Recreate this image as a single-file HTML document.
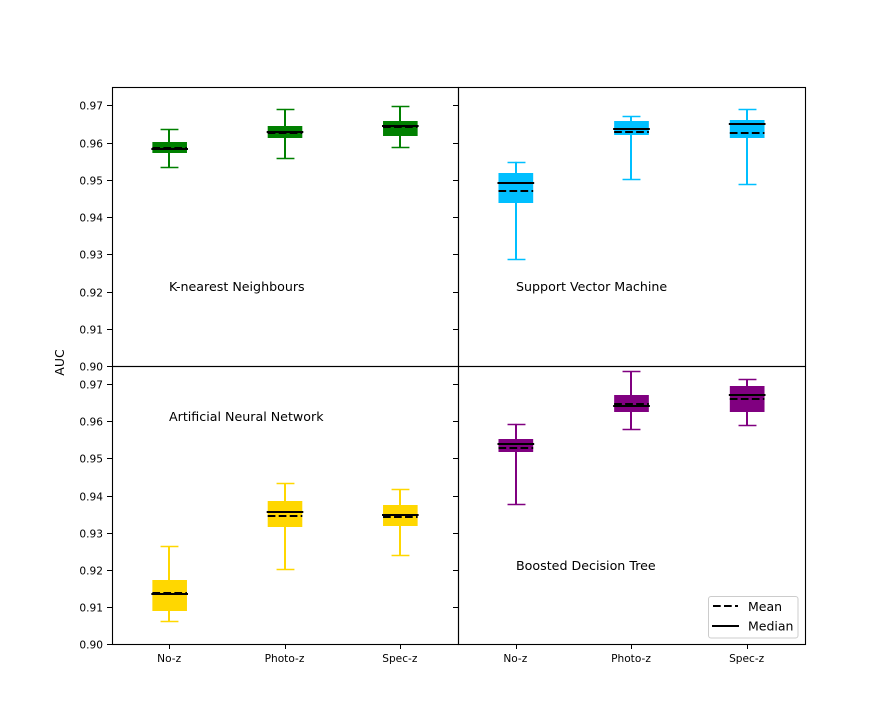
<!DOCTYPE html>
<html>
<head>
<meta charset="utf-8">
<title>AUC box plots</title>
<style>
html,body{margin:0;padding:0;background:#fff;width:894px;height:724px;overflow:hidden}
svg{display:block}
text{font-family:"DejaVu Sans","Liberation Sans",sans-serif;fill:#000}
</style>
</head>
<body>
<svg id="chart" xmlns="http://www.w3.org/2000/svg" width="894" height="724" viewBox="0 0 894 724">
  <text transform="translate(64 362.5) rotate(-90)" text-anchor="middle" font-size="12.5">AUC</text>
  <g id="panels"></g>
  <g>
    <rect x="708.5" y="596.5" width="89.5" height="41.5" rx="2.5" fill="#fff" fill-opacity="0.8" stroke="#ccc" stroke-width="1"/>
    <line x1="713" x2="738" y1="606" y2="606" stroke="#000" stroke-width="2" stroke-dasharray="7.7 3.3"/>
    <text x="748" y="611" font-size="12.5">Mean</text>
    <line x1="712" x2="739" y1="626" y2="626" stroke="#000" stroke-width="2"/>
    <text x="748" y="630.5" font-size="12.5">Median</text>
  </g>
</svg>
<script>
const categories = ['No-z', 'Photo-z', 'Spec-z'];
const yTickValues = [0.90, 0.91, 0.92, 0.93, 0.94, 0.95, 0.96, 0.97];
const yTickLabels = ['0.90', '0.91', '0.92', '0.93', '0.94', '0.95', '0.96', '0.97'];

const knnLow = [0.9534, 0.9558, 0.9587];
const knnQ1 = [0.9573, 0.9613, 0.9618];
const knnMedian = [0.9583, 0.9628, 0.9644];
const knnMean = [0.9585, 0.9626, 0.9642];
const knnQ3 = [0.9601, 0.9644, 0.9658];
const knnHigh = [0.9636, 0.9690, 0.9698];

const svmLow = [0.9286, 0.9501, 0.9488];
const svmQ1 = [0.9437, 0.9620, 0.9612];
const svmMedian = [0.9492, 0.9636, 0.9651];
const svmMean = [0.9470, 0.9628, 0.9626];
const svmQ3 = [0.9518, 0.9658, 0.9660];
const svmHigh = [0.9548, 0.9671, 0.9689];

const annLow = [0.9061, 0.9201, 0.9239];
const annQ1 = [0.9090, 0.9316, 0.9319];
const annMedian = [0.9136, 0.9356, 0.9348];
const annMean = [0.9138, 0.9345, 0.9342];
const annQ3 = [0.9173, 0.9385, 0.9375];
const annHigh = [0.9263, 0.9433, 0.9417];

const bdtLow = [0.9377, 0.9579, 0.9589];
const bdtQ1 = [0.9518, 0.9626, 0.9626];
const bdtMedian = [0.9539, 0.9642, 0.9672];
const bdtMean = [0.9528, 0.9647, 0.9660];
const bdtQ3 = [0.9553, 0.9671, 0.9695];
const bdtHigh = [0.9593, 0.9735, 0.9714];

const NS = 'http://www.w3.org/2000/svg';
const root = document.getElementById('panels');
const Y_MIN = 0.90, Y_MAX = 0.9749, X_MIN = 0.5, X_MAX = 3.5;

const panels = [
  {key:'knn', title:'K-nearest Neighbours', color:'#008000', box:[112,458,87,366], showY:true, showX:false, tx:169, ty:291,
   low:knnLow, q1:knnQ1, median:knnMedian, mean:knnMean, q3:knnQ3, high:knnHigh},
  {key:'svm', title:'Support Vector Machine', color:'#00bfff', box:[458,805,87,366], showY:false, showX:false, tx:516, ty:291,
   low:svmLow, q1:svmQ1, median:svmMedian, mean:svmMean, q3:svmQ3, high:svmHigh},
  {key:'ann', title:'Artificial Neural Network', color:'#ffd700', box:[112,458,366,644], showY:true, showX:true, tx:169, ty:421,
   low:annLow, q1:annQ1, median:annMedian, mean:annMean, q3:annQ3, high:annHigh},
  {key:'bdt', title:'Boosted Decision Tree', color:'#800080', box:[458,805,366,644], showY:false, showX:true, tx:516, ty:570,
   low:bdtLow, q1:bdtQ1, median:bdtMedian, mean:bdtMean, q3:bdtQ3, high:bdtHigh}
];

function make(tag, attrs, parent, text) {
  const el = document.createElementNS(NS, tag);
  for (const k in attrs) el.setAttribute(k, attrs[k]);
  if (text !== undefined) el.textContent = text;
  parent.appendChild(el);
  return el;
}

panels.forEach(function (p) {
  const [L, R, T, B] = p.box;
  const xScale = function (v) { return L + (v - X_MIN) / (X_MAX - X_MIN) * (R - L); };
  const yScale = function (v) { return B - (v - Y_MIN) / (Y_MAX - Y_MIN) * (B - T); };
  const snap = function (v) { return Math.round(v) + 0.5; };
  const boxW = 0.3 * (R - L) / (X_MAX - X_MIN);
  const capW = 0.155 * (R - L) / (X_MAX - X_MIN);

  const g = make('g', {}, root);
  
  

  const title = make('text', {x: p.tx, y: p.ty, 'font-size': 12.65}, g, p.title);
  
  

  categories.forEach(function (cat, i) {
    const cx = xScale(i + 1);
    const wx = Math.round(cx - 0.2);
    const item = make('g', {}, g);
    
    

    const whisker = make('line', {x1: wx, x2: wx, y1: yScale(p.low[i]), y2: yScale(p.high[i]), stroke: p.color, 'stroke-width': 2}, item);
    
    

    [p.low[i], p.high[i]].forEach(function (v) {
      const cap = make('line', {x1: wx + 0.5 - capW / 2, x2: wx + 0.5 + capW / 2, y1: snap(yScale(v)), y2: snap(yScale(v)), stroke: p.color, 'stroke-width': 1.4}, item);
      
      
    });

    const yTop = Math.round(yScale(p.q3[i]));
    const yBot = Math.round(yScale(p.q1[i]));
    const rect = make('rect', {x: cx - boxW / 2, y: yTop, width: boxW, height: yBot - yTop, fill: p.color}, item);
    
    

    const mean = make('line', {x1: cx - boxW / 2, x2: cx + boxW / 2, y1: Math.round(yScale(p.mean[i])), y2: Math.round(yScale(p.mean[i])), stroke: '#000', 'stroke-width': 2, 'stroke-dasharray': '7.7 3.3'}, item);
    
    

    const median = make('line', {x1: cx - boxW / 2 - 1, x2: cx + boxW / 2 + 1, y1: Math.round(yScale(p.median[i])), y2: Math.round(yScale(p.median[i])), stroke: '#000', 'stroke-width': 2}, item);
    
    

    if (p.showX) {
      const tick = make('line', {x1: wx + 0.5, x2: wx + 0.5, y1: B, y2: B + 5, stroke: '#000', 'stroke-width': 1}, g);
      
      
      const lab = make('text', {x: cx - 0.5, y: B + 18, 'font-size': 10.6, 'text-anchor': 'middle'}, g, cat);
      
      
    }
  });

  yTickValues.forEach(function (v, i) {
    const y = snap(yScale(v));
    const tick = make('line', {x1: L - 5, x2: L, y1: y, y2: y, stroke: '#000', 'stroke-width': 1}, g);
    
    
    if (p.showY) {
      const lab = make('text', {x: L - 9, y: y + 4, 'font-size': 10.6, 'text-anchor': 'end'}, g, yTickLabels[i]);
      
      
    }
  });

  const frame = make('rect', {x: L + 0.5, y: T + 0.5, width: R - L, height: B - T, fill: 'none', stroke: '#000', 'stroke-width': 1.1}, g);
  
  
});
</script>
</body>
</html>
